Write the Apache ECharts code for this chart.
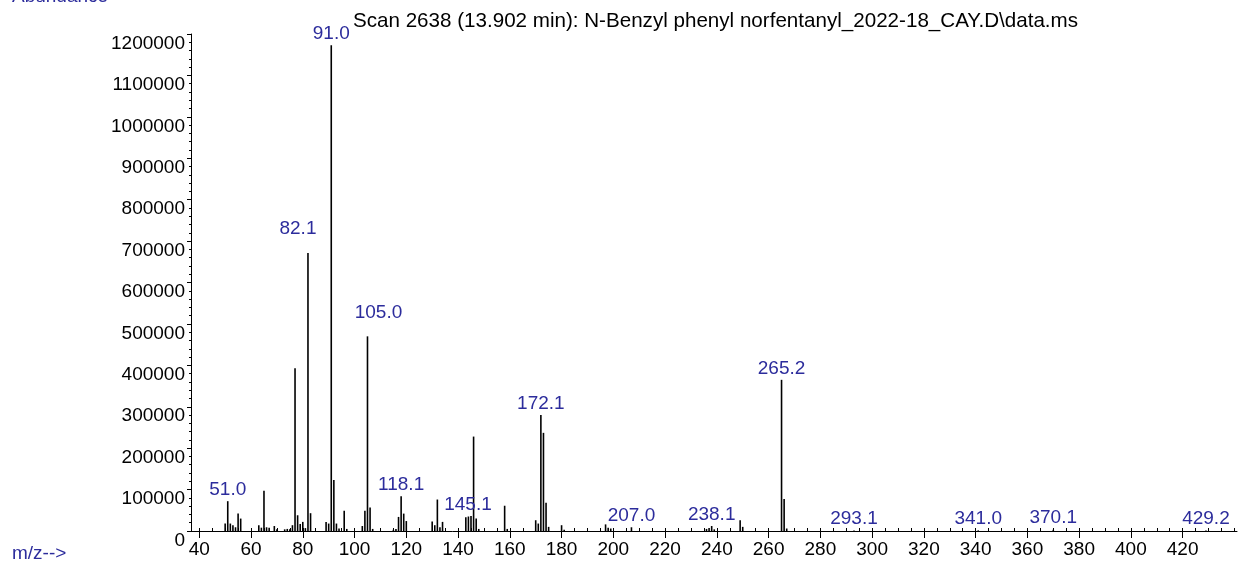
<!DOCTYPE html>
<html>
<head>
<meta charset="utf-8">
<script src="https://cdn.jsdelivr.net/npm/echarts@6/dist/echarts.min.js"></script>
<style>
  html, body { margin: 0; padding: 0; background: #fff; }
  #chart { width: 1238px; height: 567px; }
</style>
</head>
<body>
<div id="chart"></div>
<script>
// 质谱峰数据 (m/z, 丰度)
const mzValues = [
  50, 51, 52, 53, 54, 55, 56,
  63, 64, 65, 66, 67, 69, 70,
  73, 74, 75, 76, 77, 78, 79, 80, 81, 82, 83,
  89, 90, 91, 92, 93, 94, 96, 97,
  103, 104, 105, 106, 107,
  115, 116, 117, 118, 119, 120,
  130, 131, 132, 133, 134,
  143, 144, 145, 146, 147, 148,
  158, 159,
  170, 171, 172, 173, 174, 175,
  180, 181,
  197, 198, 199, 207,
  236, 237, 238, 239,
  249, 250,
  265, 266, 267,
  293, 341, 370, 429
]
const abundances = [
  18000, 72000, 18000, 14000, 9000, 42000, 30000,
  14000, 8000, 97000, 9000, 8000, 12000, 4000,
  4000, 5000, 4000, 14000, 393000, 38000, 17000, 22000, 7000, 671000, 43000,
  22000, 18000, 1173000, 123000, 18000, 6000, 49000, 5000,
  12000, 49000, 470000, 57000, 5000,
  3000, 5000, 34000, 84000, 42000, 24000,
  23000, 14000, 76000, 9000, 22000,
  33000, 35000, 36000, 228000, 30000, 5000,
  61000, 5000,
  26000, 18000, 280000, 237000, 68000, 10000,
  14000, 3000,
  16000, 8000, 6000, 9000,
  5000, 7000, 12000, 4000,
  26000, 10000,
  365000, 77000, 6000,
  1500, 1500, 3000, 1500
]

// 标注的峰
const peakLabels = ['51.0', '82.1', '91.0', '105.0', '118.1', '145.1', '172.1',
  '207.0', '238.1', '265.2', '293.1', '341.0', '370.1', '429.2']

// 坐标轴刻度
const xMajorTicks = [40, 60, 80, 100, 120, 140, 160, 180, 200, 220, 240, 260,
  280, 300, 320, 340, 360, 380, 400, 420]
const xMinorTicks = [40, 45, 50, 55, 60, 65, 70, 75, 80, 85, 90, 95, 100, 105,
  110, 115, 120, 125, 130, 135, 140, 145, 150, 155, 160, 165, 170, 175, 180, 185,
  190, 195, 200, 205, 210, 215, 220, 225, 230, 235, 240, 245, 250, 255, 260, 265,
  270, 275, 280, 285, 290, 295, 300, 305, 310, 315, 320, 325, 330, 335, 340, 345,
  350, 355, 360, 365, 370, 375, 380, 385, 390, 395, 400, 405, 410, 415, 420, 425,
  430, 435, 440]

const titleText = 'Scan 2638 (13.902 min): N-Benzyl phenyl norfentanyl_2022-18_CAY.D\\data.ms'

const FONT = 'Liberation Sans'
const BLUE = '#2c2c9c'

// 个别标签位置微调
const labelNudge = {
  '82.1': [-10, -13],
  '105.0': [11, -12],
  '145.1': [-3, 0]
}

const labelByMz = {}
peakLabels.forEach(t => { labelByMz[Math.round(parseFloat(t))] = t })

const seriesData = mzValues.map((mz, i) => {
  const item = { value: [mz, abundances[i]] }
  const text = labelByMz[mz]
  if (text) {
    item.label = {
      show: true,
      position: 'top',
      distance: 2,
      formatter: text,
      offset: labelNudge[text] || [0, 0]
    }
  }
  return item
})

const chart = echarts.init(document.getElementById('chart'))

chart.setOption({
  animation: false,
  title: {
    text: titleText,
    left: 348,
    top: 6,
    textStyle: { fontFamily: FONT, fontSize: 20.6, fontWeight: 'normal', color: '#000' }
  },
  grid: { left: 191, top: 34, right: 1, bottom: 36 },
  xAxis: [
    {
      type: 'value',
      min: 36.8,
      max: 441,
      axisLine: { show: true, lineStyle: { color: '#000', width: 1 } },
      axisTick: { show: true, length: 7, customValues: xMajorTicks, lineStyle: { color: '#000' } },
      axisLabel: {
        customValues: xMajorTicks,
        color: '#000', fontFamily: FONT, fontSize: 19, margin: 9
      },
      splitLine: { show: false }
    },
    {
      type: 'value',
      min: 36.8,
      max: 441,
      position: 'bottom',
      axisLine: { show: false },
      axisTick: { show: true, inside: true, length: 3, customValues: xMinorTicks, lineStyle: { color: '#000' } },
      axisLabel: { show: false },
      splitLine: { show: false }
    }
  ],
  yAxis: {
    type: 'value',
    min: 0,
    max: 1200000,
    interval: 100000,
    axisLine: { show: true, lineStyle: { color: '#000', width: 1 } },
    axisTick: { show: true, length: 4, lineStyle: { color: '#000' } },
    minorTick: { show: true, splitNumber: 5, length: 2, lineStyle: { color: '#000' } },
    axisLabel: {
      color: '#000', fontFamily: FONT, fontSize: 19, margin: 6,
      verticalAlign: 'top',
      formatter: v => String(v)
    },
    splitLine: { show: false }
  },
  graphic: [
    {
      type: 'text', left: 12, top: -13,
      style: { text: 'Abundance', fill: BLUE, font: '19px ' + FONT }
    },
    {
      type: 'text', left: 12, top: 544,
      style: { text: 'm/z-->', fill: BLUE, font: '19px ' + FONT }
    }
  ],
  series: [{
    type: 'bar',
    xAxisIndex: 0,
    barWidth: 1.6,
    itemStyle: { color: '#000' },
    label: {
      color: BLUE, fontFamily: FONT, fontSize: 19
    },
    data: seriesData
  }]
})
</script>
</body>
</html>
